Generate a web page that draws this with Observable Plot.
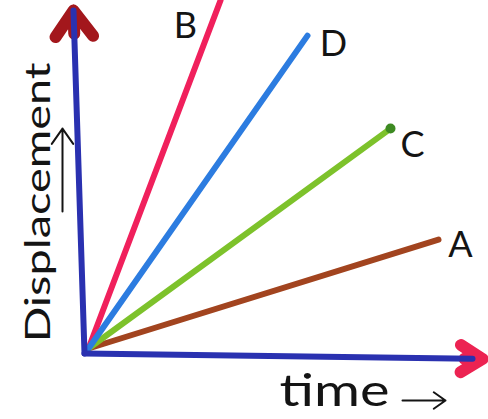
<!DOCTYPE html>
<html>
<head>
<meta charset="utf-8">
<script src="https://cdn.jsdelivr.net/npm/d3@7"></script>
<script src="https://cdn.jsdelivr.net/npm/@observablehq/plot@0.6"></script>
<style>
  body { margin: 0; background: #ffffff; }
  svg { display: block; }
</style>
</head>
<body>
<div id="chart"></div>
<script>
// Four bodies in uniform motion; each displacement–time line starts at the origin.
const bodies = ["A", "B", "C", "D"];
const endTime = [8.75, 3.3, 7.55, 5.475];
const endDisplacement = [3.13, 10.0, 6.32, 8.99];
// Letter placed beside the end of each line
const labelTime = [9.3, 2.425, 8.1, 6.125];
const labelDisplacement = [2.96, 9.25, 5.83, 8.74];

// Axis lines (drawn by hand, so they sit a little off the origin)
const axisStart = [-0.1, -0.144];
const timeAxisTip = [9.85, -0.3];
const dispAxisTip = [-0.375, 9.71];

// Axis names and their small direction arrows
const timeTitle = "time";
const dispTitle = "Displacement";
const timeTitleAt = [6.15, -1.25];
const dispTitleAt = [-1.25, 4.2];
const dispArrow = [-0.65, 3.94, -0.65, 6.32];
const timeArrow = [7.85, -1.494, 8.925, -1.494];

const lines = bodies.map((b, i) => ({
  body: b, t0: 0, d0: 0, t1: endTime[i], d1: endDisplacement[i],
  lt: labelTime[i], ld: labelDisplacement[i]
}));

const timeAxis = [{name: "time", x1: axisStart[0], y1: axisStart[1], x2: timeAxisTip[0], y2: timeAxisTip[1]}];
const dispAxis = [{name: "displacement", x1: axisStart[0], y1: axisStart[1], x2: dispAxisTip[0], y2: dispAxisTip[1]}];

const font = "Lato, 'Open Sans', sans-serif";
const ink = "#141414";
const axisBlue = "#2a31b0";

const chart = Plot.plot({
  width: 488,
  height: 419,
  marginLeft: 88,
  marginRight: 0,
  marginTop: 0,
  marginBottom: 71,
  x: {domain: [0, 10], axis: null},
  y: {domain: [0, 10], axis: null},
  color: {
    type: "ordinal",
    domain: ["A", "B", "C", "D", "time", "displacement"],
    range: ["#a2441f", "#f0205c", "#7dc22b", "#2c7ce0", "#ec2352", "#a3171c"]
  },
  style: {background: "#ffffff", fontFamily: font},
  marks: [
    // red chevron heads of the two axes (only the tip of each arrow is kept)
    Plot.arrow(dispAxis, {
      x1: "x1", y1: "y1", x2: "x2", y2: "y2",
      stroke: "name", strokeWidth: 12, headAngle: 72, headLength: 4,
      insetStart: 320, strokeLinecap: "round", strokeLinejoin: "round"
    }),
    Plot.arrow(timeAxis, {
      x1: "x1", y1: "y1", x2: "x2", y2: "y2",
      stroke: "name", strokeWidth: 12, headAngle: 64, headLength: 3.2,
      insetStart: 380, strokeLinecap: "round", strokeLinejoin: "round"
    }),
    // the four displacement–time lines
    Plot.link(lines, {
      x1: "t0", y1: "d0", x2: "t1", y2: "d1",
      stroke: "body", strokeWidth: 6, strokeLinecap: "round"
    }),
    // dark dot at the end of line C
    Plot.dot(lines.filter(d => d.body === "C"), {
      x: "t1", y: "d1", r: 5, fill: "#3d8a22"
    }),
    // axis shafts
    Plot.arrow(dispAxis, {
      x1: "x1", y1: "y1", x2: "x2", y2: "y2",
      stroke: axisBlue, strokeWidth: 6, headLength: 0, strokeLinecap: "round"
    }),
    Plot.arrow(timeAxis, {
      x1: "x1", y1: "y1", x2: "x2", y2: "y2",
      stroke: axisBlue, strokeWidth: 6, headLength: 0, insetEnd: 10, strokeLinecap: "round"
    }),
    // labels A–D
    Plot.text(lines, {
      x: "lt", y: "ld", text: "body", fontSize: 36, fill: ink,
      textAnchor: "middle", lineAnchor: "middle"
    }),
    // axis titles
    Plot.text([dispTitle], {
      x: () => dispTitleAt[0], y: () => dispTitleAt[1], text: d => d,
      rotate: -90, fontSize: 35, fill: ink, lineAnchor: "middle"
    }),
    Plot.text([timeTitle], {
      x: () => timeTitleAt[0], y: () => timeTitleAt[1], text: d => d,
      fontSize: 44, fill: ink, lineAnchor: "middle"
    }),
    Plot.arrow([dispArrow], {
      x1: d => d[0], y1: d => d[1], x2: d => d[2], y2: d => d[3],
      stroke: ink, strokeWidth: 2, headAngle: 70, headLength: 14
    }),
    Plot.arrow([timeArrow], {
      x1: d => d[0], y1: d => d[1], x2: d => d[2], y2: d => d[3],
      stroke: ink, strokeWidth: 2, headAngle: 70, headLength: 11
    })
  ]
});

// stretch the axis titles to the length of the hand lettering
d3.select(chart).selectAll("text").each(function () {
  const t = this.textContent;
  if (t === dispTitle) d3.select(this).attr("textLength", 280).attr("lengthAdjust", "spacingAndGlyphs");
  if (t === timeTitle) d3.select(this).attr("textLength", 110).attr("lengthAdjust", "spacingAndGlyphs");
});

document.getElementById("chart").appendChild(chart);
</script>
</body>
</html>
